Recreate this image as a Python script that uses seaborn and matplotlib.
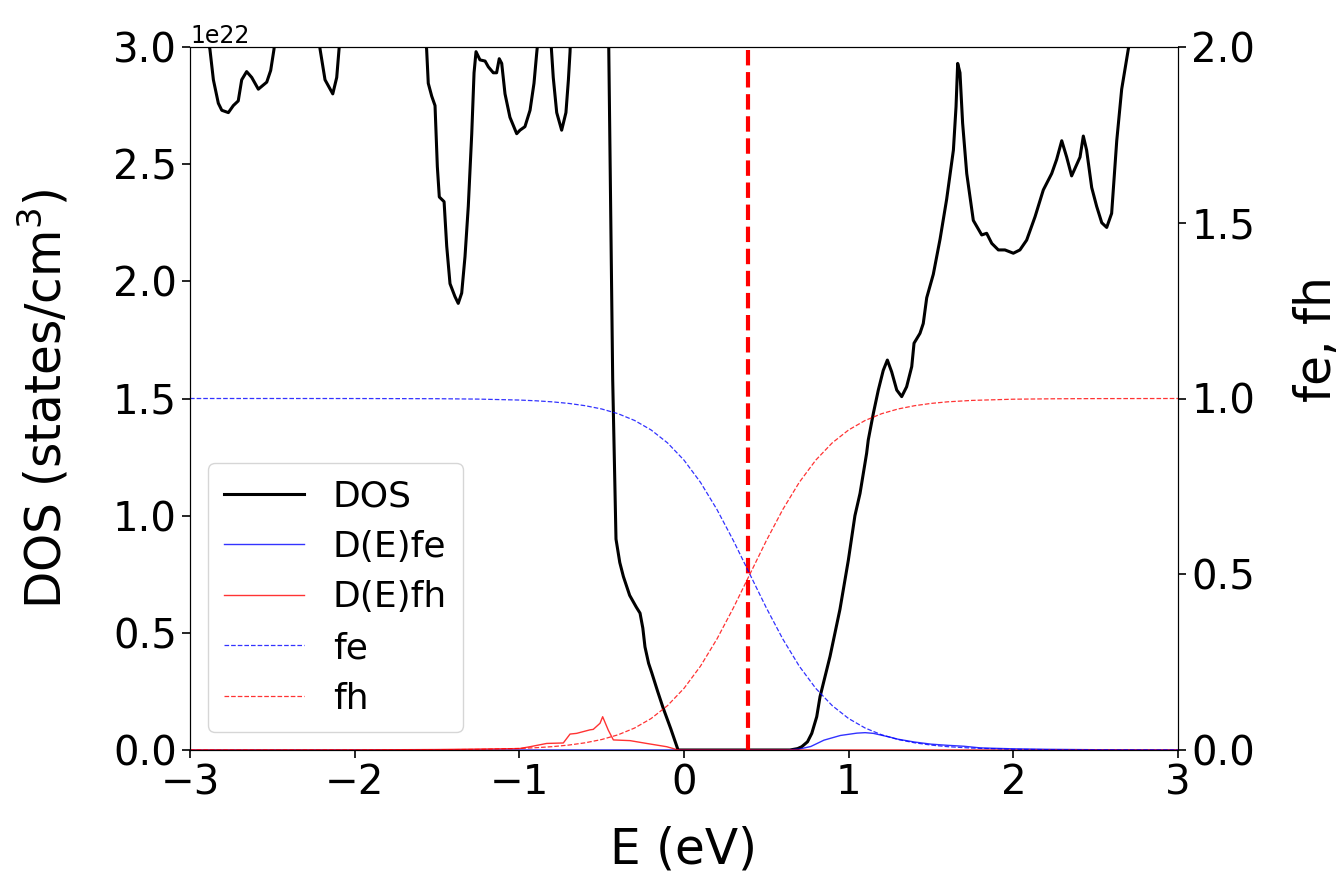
import numpy as np
import pandas as pd
import matplotlib
matplotlib.use("Agg")
import matplotlib.pyplot as plt
import seaborn as sns

# ---------------- data ----------------
DOS_UNIT = 1e22
E_FERMI = 0.39

E_dos = [-3.00, -2.95, -2.90, -2.879, -2.858, -2.828, -2.807, -2.767, -2.737, -2.707,
         -2.686, -2.656, -2.625, -2.585, -2.534, -2.510, -2.490, -2.45, -2.35, -2.25,
         -2.210, -2.180, -2.133, -2.109, -2.095, -2.05, -1.90, -1.75, -1.60, -1.563,
         -1.553, -1.532, -1.512, -1.498, -1.486, -1.457, -1.441, -1.421, -1.391, -1.371,
         -1.350, -1.330, -1.310, -1.289, -1.275, -1.263, -1.239, -1.208, -1.188, -1.158,
         -1.138, -1.122, -1.107, -1.087, -1.057, -1.016, -0.996, -0.966, -0.935, -0.911,
         -0.895, -0.87, -0.84, -0.806, -0.794, -0.773, -0.743, -0.717, -0.702, -0.692,
         -0.67, -0.62, -0.57, -0.53, -0.494, -0.47, -0.457, -0.433, -0.413, -0.390,
         -0.368, -0.330, -0.290, -0.267, -0.250, -0.237, -0.215, -0.196, -0.160, -0.127,
         -0.080, -0.036, 0.644, 0.690, 0.715, 0.750, 0.776, 0.806, 0.826,
         0.887, 0.947, 0.998, 1.038, 1.069, 1.109, 1.119, 1.150, 1.180, 1.210,
         1.235, 1.261, 1.292, 1.322, 1.352, 1.383, 1.397, 1.433, 1.453, 1.474,
         1.514, 1.555, 1.595, 1.636, 1.652, 1.662, 1.676, 1.692, 1.717, 1.757,
         1.808, 1.838, 1.869, 1.909, 1.949, 2.000, 2.040, 2.081, 2.132, 2.182,
         2.233, 2.263, 2.294, 2.324, 2.354, 2.405, 2.425, 2.445, 2.476, 2.506,
         2.537, 2.567, 2.597, 2.628, 2.658, 2.698, 2.80, 3.00]
dos = [3.40, 3.20, 3.05, 2.99, 2.86, 2.76, 2.73, 2.72, 2.75, 2.77,
       2.86, 2.895, 2.87, 2.82, 2.85, 2.90, 2.99, 3.30, 3.50, 3.20,
       2.99, 2.86, 2.80, 2.87, 2.99, 3.40, 3.80, 3.60, 3.20, 2.99,
       2.845, 2.79, 2.75, 2.49, 2.36, 2.34, 2.15, 1.99, 1.935, 1.906,
       1.95, 2.105, 2.32, 2.63, 2.89, 2.98, 2.945, 2.94, 2.915, 2.89,
       2.89, 2.95, 2.93, 2.80, 2.70, 2.63, 2.645, 2.66, 2.73, 2.845,
       2.97, 3.15, 3.10, 3.00, 2.87, 2.72, 2.645, 2.72, 2.86, 2.98,
       3.50, 4.20, 3.90, 4.00, 4.60, 3.60, 3.00, 1.58, 0.90, 0.80,
       0.74, 0.66, 0.61, 0.584, 0.52, 0.44, 0.37, 0.33, 0.25, 0.18,
       0.09, 0.0, 0.0, 0.006, 0.014, 0.035, 0.071, 0.142, 0.227,
       0.40, 0.60, 0.81, 1.00, 1.095, 1.266, 1.323, 1.437, 1.536, 1.62,
       1.664, 1.614, 1.536, 1.508, 1.55, 1.636, 1.736, 1.778, 1.82, 1.93,
       2.03, 2.18, 2.35, 2.56, 2.745, 2.93, 2.89, 2.675, 2.46, 2.26,
       2.198, 2.205, 2.162, 2.134, 2.134, 2.12, 2.134, 2.176, 2.276, 2.39,
       2.46, 2.52, 2.60, 2.53, 2.45, 2.53, 2.62, 2.56, 2.40, 2.32,
       2.25, 2.23, 2.29, 2.60, 2.82, 2.99, 3.40, 3.80]

# occupation functions
E_f = [-3.0, -2.5, -2.0, -1.5, -1.25, -1.0, -0.9, -0.8, -0.7, -0.6,
       -0.5, -0.4, -0.3, -0.2, -0.1, 0.0, 0.1, 0.2, 0.3, 0.4,
       0.5, 0.6, 0.7, 0.8, 0.9, 1.0, 1.1, 1.2, 1.3, 1.4,
       1.5, 1.6, 1.75, 2.0, 2.25, 2.5, 3.0]
fe = [1.0000, 1.0000, 0.9999, 0.9994, 0.9983, 0.9956, 0.9935, 0.9905, 0.9860, 0.9795,
      0.9702, 0.9567, 0.9375, 0.9106, 0.8737, 0.8246, 0.7615, 0.6843, 0.5956, 0.5000,
      0.4044, 0.3157, 0.2385, 0.1754, 0.1263, 0.0894, 0.0625, 0.0433, 0.0298, 0.0205,
      0.0140, 0.0095, 0.0054, 0.0020, 0.0008, 0.0003, 0.0000]
fh = [0.0000, 0.0000, 0.0001, 0.0006, 0.0017, 0.0044, 0.0065, 0.0095, 0.0140, 0.0205,
      0.0298, 0.0433, 0.0625, 0.0894, 0.1263, 0.1754, 0.2385, 0.3157, 0.4044, 0.5000,
      0.5956, 0.6843, 0.7615, 0.8246, 0.8737, 0.9106, 0.9375, 0.9567, 0.9702, 0.9795,
      0.9860, 0.9905, 0.9946, 0.9980, 0.9992, 0.9997, 1.0000]

# carrier densities D(E)fe (conduction band) and D(E)fh (valence band), units 1e22
E_dfe = [-3.0, 0.62, 0.70, 0.77, 0.85, 0.95, 1.05, 1.10, 1.15, 1.20,
         1.25, 1.30, 1.40, 1.50, 1.60, 1.70, 1.80, 2.0, 2.2, 2.5, 3.0]
dfe = [0.0, 0.0, 0.004, 0.015, 0.042, 0.062, 0.072, 0.074, 0.071, 0.063,
       0.055, 0.046, 0.034, 0.025, 0.020, 0.016, 0.009, 0.005, 0.003, 0.0012, 0.0002]

E_dfh = [-3.0, -2.0, -1.5, -1.25, -1.0, -0.935, -0.834, -0.733, -0.692, -0.652,
         -0.571, -0.551, -0.51, -0.494, -0.46, -0.429, -0.328, -0.227, -0.105, -0.045,
         -0.03, 3.0]
dfh = [0.0, 0.0003, 0.002, 0.004, 0.006, 0.014, 0.028, 0.030, 0.068, 0.071,
       0.086, 0.088, 0.114, 0.142, 0.085, 0.043, 0.040, 0.028, 0.014, 0.002,
       0.0, 0.0]

# ---------------- figure ----------------
DPI = 100
fig = plt.figure(figsize=(13.39, 8.86), dpi=DPI)
ax = fig.add_axes([190 / 1339, 1 - 750 / 886, (1178 - 190) / 1339, (750 - 47) / 886])
ax2 = ax.twinx()

df_dos = pd.DataFrame({"E": E_dos, "v": np.array(dos) * DOS_UNIT})
df_dfe = pd.DataFrame({"E": E_dfe, "v": np.array(dfe) * DOS_UNIT})
df_dfh = pd.DataFrame({"E": E_dfh, "v": np.array(dfh) * DOS_UNIT})
df_fe = pd.DataFrame({"E": E_f, "v": fe})
df_fh = pd.DataFrame({"E": E_f, "v": fh})

sns.lineplot(data=df_dos, x="E", y="v", ax=ax, color="black", lw=2.2,
             sort=False, estimator=None, label="DOS", legend=False)
sns.lineplot(data=df_dfe, x="E", y="v", ax=ax, color="blue", lw=1.0, alpha=0.8,
             sort=False, estimator=None, label="D(E)fe", legend=False)
sns.lineplot(data=df_dfh, x="E", y="v", ax=ax, color="red", lw=1.0, alpha=0.8,
             sort=False, estimator=None, label="D(E)fh", legend=False)
ax.axvline(E_FERMI, color="red", ls="--", lw=3)

sns.lineplot(data=df_fe, x="E", y="v", ax=ax2, color="blue", lw=0.9, ls="--", alpha=0.8,
             sort=False, estimator=None, label="fe", legend=False)
sns.lineplot(data=df_fh, x="E", y="v", ax=ax2, color="red", lw=0.9, ls="--", alpha=0.8,
             sort=False, estimator=None, label="fh", legend=False)

ax.set_xlim(-3, 3)
ax.set_ylim(0, 3e22)
ax2.set_ylim(0, 2)
ax.set_yticks(np.arange(0, 3.01, 0.5) * DOS_UNIT)
ax2.set_yticks([0, 0.5, 1.0, 1.5, 2.0])
ax.set_xticks([-3, -2, -1, 0, 1, 2, 3])

TICK = 29
LABEL = 35
ax.tick_params(labelsize=TICK, length=6, width=1.2)
ax2.tick_params(labelsize=TICK, length=6, width=1.2)
ax.yaxis.get_offset_text().set_fontsize(17)
ax.set_xlabel("E (eV)", fontsize=LABEL, labelpad=16)
ax.set_ylabel("DOS (states/cm$^3$)", fontsize=LABEL, labelpad=30)
ax2.set_ylabel("fe, fh", fontsize=LABEL)
ax2.yaxis.set_label_coords(1.116, 0.585)

h1, l1 = ax.get_legend_handles_labels()
h2, l2 = ax2.get_legend_handles_labels()
ax2.legend(h1 + h2, l1 + l2, loc="lower left", fontsize=26, handlelength=2.2,
           labelspacing=0.46, borderpad=0.45)

fig.savefig("out.png", dpi=DPI)
